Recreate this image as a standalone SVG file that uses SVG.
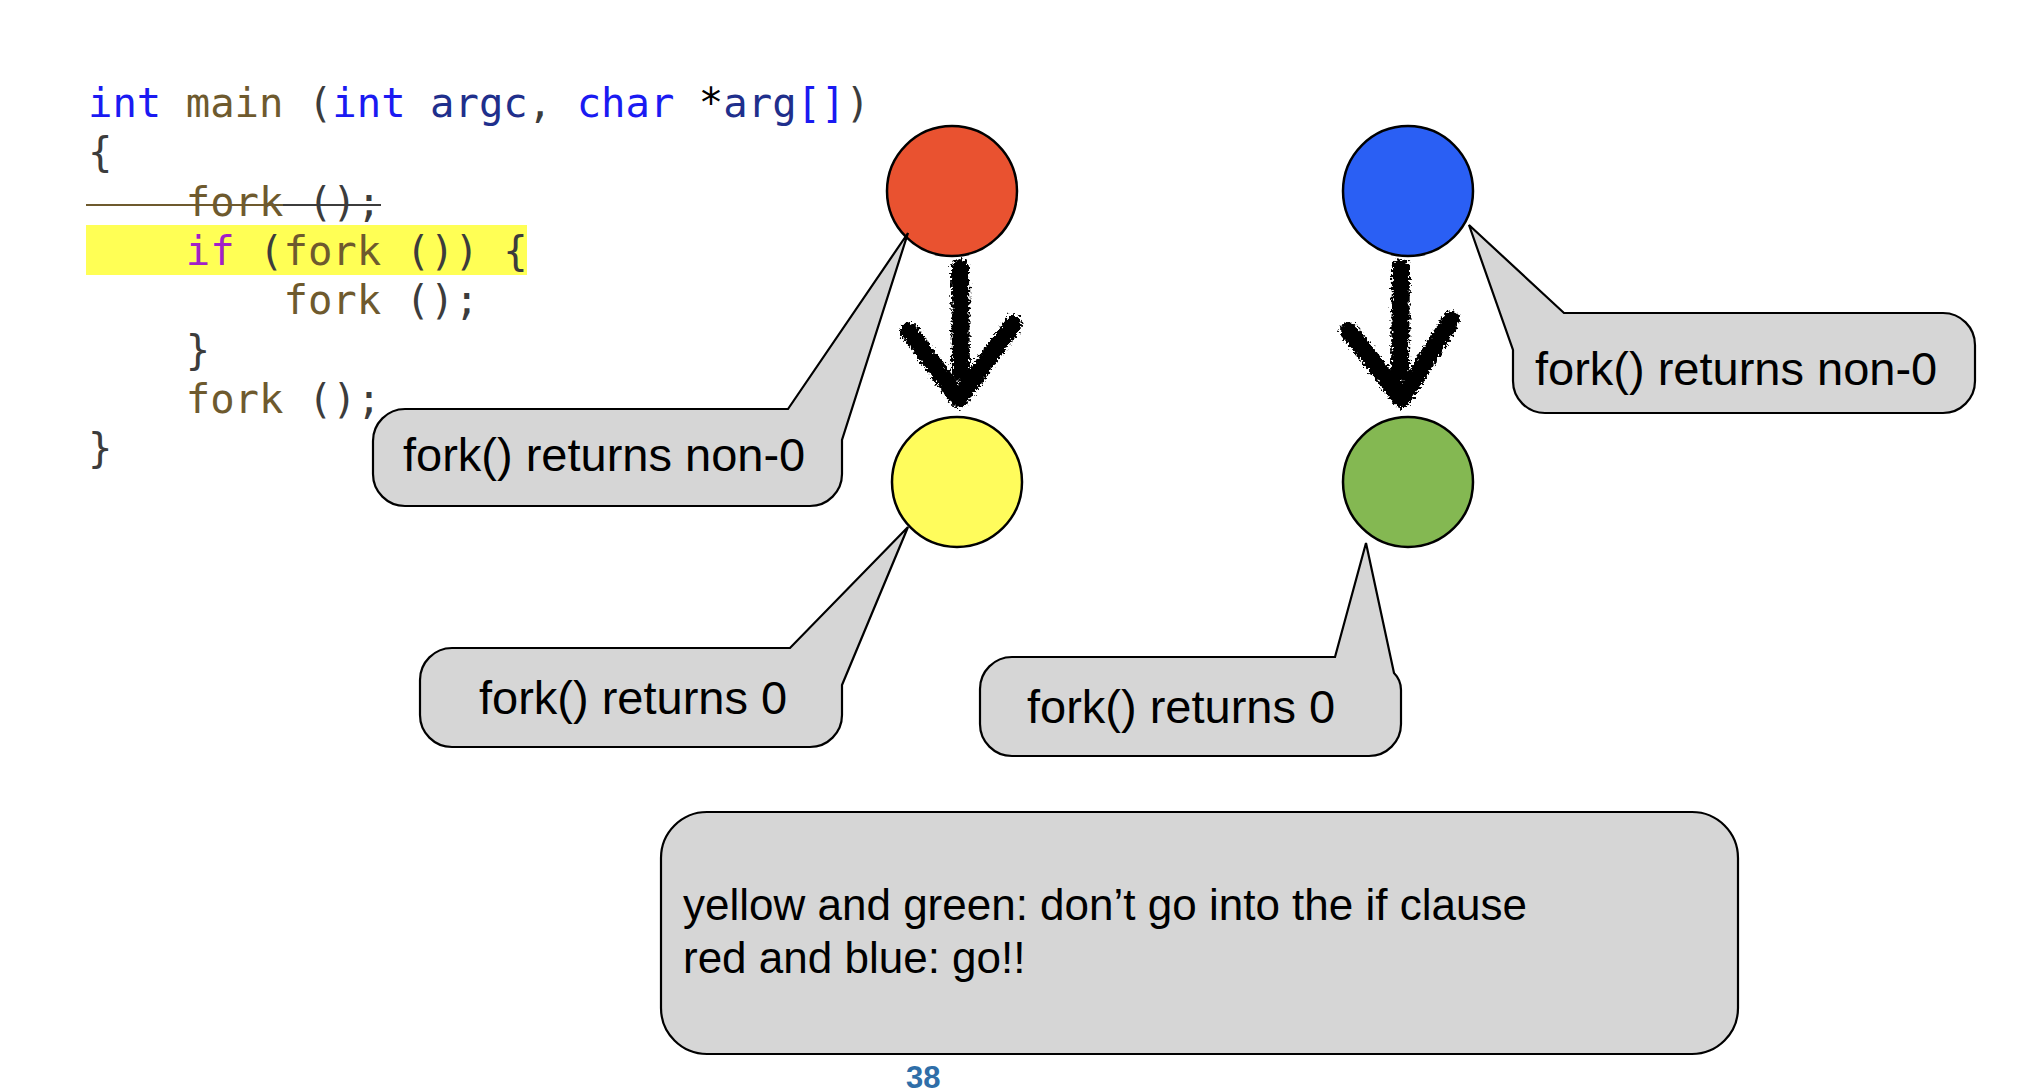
<svg xmlns="http://www.w3.org/2000/svg" width="2036" height="1092" viewBox="0 0 2036 1092">
<style>
.code{font-family:"DejaVu Sans Mono","Liberation Mono",monospace;font-size:40.6px;}
.kw{fill:#1a1af2}.fn{fill:#6e5a2e}.pu{fill:#3c3c3c}.id{fill:#1f2f8c}.bk{fill:#000}.if{fill:#a21fc8}
.bubble{fill:#d6d6d6;stroke:#000;stroke-width:2.2;stroke-linejoin:miter}
.lbl{font-family:"Liberation Sans",Arial,sans-serif;font-size:47px;fill:#000}
.note{font-family:"Liberation Sans",Arial,sans-serif;font-size:44px;fill:#000}
.dot{stroke:#000;stroke-width:2.5}
.brush{fill:none;stroke:#000;stroke-width:18;stroke-linecap:round;stroke-linejoin:round;filter:url(#rough)}
</style>
<defs>
<filter id="rough" filterUnits="userSpaceOnUse" x="850" y="240" width="650" height="190">
<feTurbulence type="fractalNoise" baseFrequency="0.4" numOctaves="2" seed="3" result="n"/>
<feDisplacementMap in="SourceGraphic" in2="n" scale="10" xChannelSelector="R" yChannelSelector="G"/>
</filter>
</defs>
<rect width="2036" height="1092" fill="#fff"/>

<g id="code">
<rect x="86" y="225" width="441" height="50" fill="#ffff55"/>
<text class="code" x="88" y="117" xml:space="preserve"><tspan class="kw">int</tspan><tspan class="fn"> main </tspan><tspan class="pu">(</tspan><tspan class="kw">int</tspan><tspan class="id"> argc</tspan><tspan class="pu">, </tspan><tspan class="kw">char</tspan><tspan class="bk"> *</tspan><tspan class="id">arg</tspan><tspan class="kw">[]</tspan><tspan class="pu">)</tspan></text>
<text class="code pu" x="88" y="166">{</text>
<text class="code" x="88" y="215.5" xml:space="preserve">    <tspan class="fn">fork</tspan><tspan class="pu"> ();</tspan></text>
<line x1="86" y1="205" x2="283" y2="205" stroke="#6e5a2e" stroke-width="2.2"/>
<line x1="283" y1="205" x2="381" y2="205" stroke="#3c3c3c" stroke-width="2.2"/>
<text class="code" x="88" y="265" xml:space="preserve">    <tspan class="if">if</tspan><tspan class="pu"> (</tspan><tspan class="fn">fork</tspan><tspan class="pu"> ()) {</tspan></text>
<text class="code" x="88" y="314" xml:space="preserve">        <tspan class="fn">fork</tspan><tspan class="pu"> ();</tspan></text>
<text class="code pu" x="88" y="363.5" xml:space="preserve">    }</text>
<text class="code" x="88" y="413" xml:space="preserve">    <tspan class="fn">fork</tspan><tspan class="pu"> ();</tspan></text>
<text class="code pu" x="88" y="462">}</text>
</g>

<g id="connectors">
<path class="brush" d="M960,268 L961,372"/>
<path class="brush" d="M909,331 L959,399 L1013,324"/>
<path class="brush" d="M1401,268 L1400,372"/>
<path class="brush" d="M1349,331 L1402,399 L1451,320"/>
</g>

<g id="node-red"><circle class="dot" cx="952" cy="191" r="65" fill="#e95230"/></g>
<g id="node-yellow"><circle class="dot" cx="957" cy="482" r="65" fill="#fffc5c"/></g>
<g id="node-blue"><circle class="dot" cx="1408" cy="191" r="65" fill="#2a5ff4"/></g>
<g id="node-green"><circle class="dot" cx="1408" cy="482" r="65" fill="#84b852"/></g>

<g id="callout-red">
<path class="bubble" d="M405,409 L788,409 L908,233 L842,440 L842,474 A32,32 0 0 1 810,506 L405,506 A32,32 0 0 1 373,474 L373,441 A32,32 0 0 1 405,409 Z"/>
<text class="lbl" x="403" y="471">fork() returns non-0</text>
</g>
<g id="callout-yellow">
<path class="bubble" d="M452,648 L790,648 L908,527 L842,685 L842,715 A32,32 0 0 1 810,747 L452,747 A32,32 0 0 1 420,715 L420,680 A32,32 0 0 1 452,648 Z"/>
<text class="lbl" x="479" y="714">fork() returns 0</text>
</g>
<g id="callout-green">
<path class="bubble" d="M1012,657 L1335,657 L1366,543 L1394,673 Q1401,680 1401,690 L1401,724 A32,32 0 0 1 1369,756 L1012,756 A32,32 0 0 1 980,724 L980,689 A32,32 0 0 1 1012,657 Z"/>
<text class="lbl" x="1027" y="723">fork() returns 0</text>
</g>
<g id="callout-blue">
<path class="bubble" d="M1469,225 L1564,313 L1943,313 A32,32 0 0 1 1975,345 L1975,381 A32,32 0 0 1 1943,413 L1545,413 A32,32 0 0 1 1513,381 L1513,350 Z"/>
<text class="lbl" x="1535" y="385">fork() returns non-0</text>
</g>

<g id="note">
<rect class="bubble" x="661" y="812" width="1077" height="242" rx="46" ry="46"/>
<text class="note" x="683" y="920">yellow and green: don’t go into the if clause</text>
<text class="note" x="683" y="973">red and blue: go!!</text>
</g>

<text x="906" y="1088" font-family="Liberation Sans Narrow,Liberation Sans,Arial,sans-serif" font-weight="bold" font-size="31" fill="#2f6ea8">38</text>
</svg>
